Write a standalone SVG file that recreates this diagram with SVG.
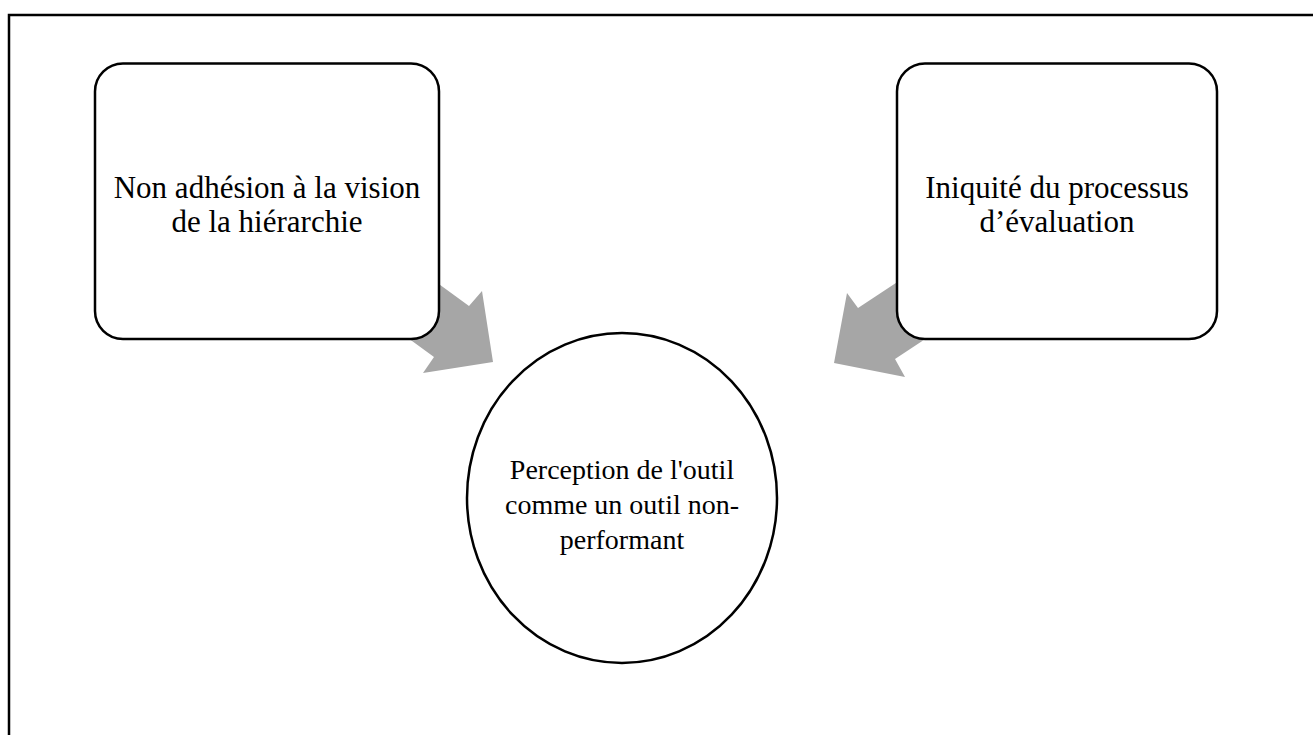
<svg xmlns="http://www.w3.org/2000/svg" width="1313" height="735" viewBox="0 0 1313 735">
<style>
.frame{fill:none;stroke:#000;stroke-width:2.5}
.box{fill:#fff;stroke:#000;stroke-width:2.5}
.arrow{fill:#A6A6A6;stroke:none}
.t{font-family:"Liberation Serif","Times New Roman",serif;font-size:31px;fill:#000;text-anchor:middle}
.c{font-size:28px}
</style>
<rect width="1313" height="735" fill="#fff"/>
<rect class="frame" x="9" y="15" width="1320" height="740"/>
<g id="connectors">
<polygon class="arrow" points="421,271 469,306 482,291 493,362 423,373 434,357 386,322"/>
<polygon class="arrow" points="908,275 858,308 847,293 834,363 905,377 895,359 945,326"/>
</g>
<g id="node-left">
<rect class="box" x="95" y="63.5" width="344" height="275.5" rx="28"/>
<text class="t" x="267" y="198">Non adhésion à la vision</text>
<text class="t" x="267" y="232">de la hiérarchie</text>
</g>
<g id="node-right">
<rect class="box" x="897" y="63.5" width="320" height="275.5" rx="28"/>
<text class="t" x="1057" y="198">Iniquité du processus</text>
<text class="t" x="1057" y="232">d’évaluation</text>
</g>
<g id="node-center">
<ellipse class="box" cx="622" cy="498" rx="155" ry="165"/>
<text class="t c" x="622" y="479">Perception de l'outil</text>
<text class="t c" x="622" y="514">comme un outil non-</text>
<text class="t c" x="622" y="549">performant</text>
</g>
</svg>
